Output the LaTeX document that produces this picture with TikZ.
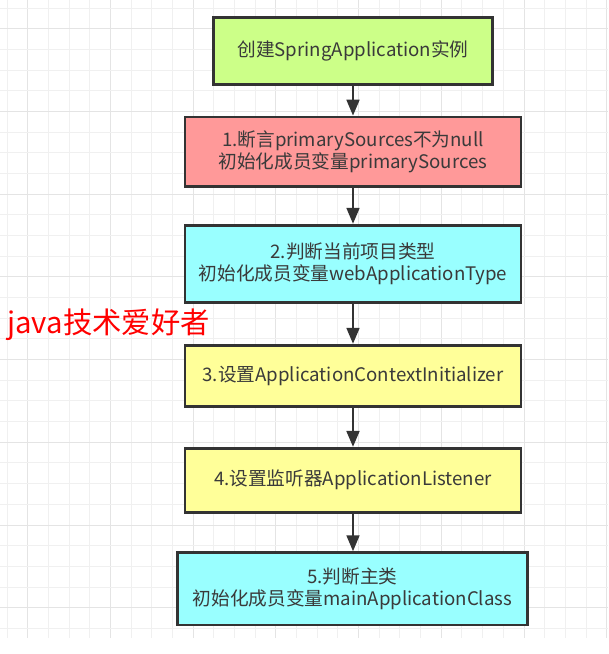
\documentclass[tikz,border=0pt]{standalone}
\usepackage{fontspec}
\setmainfont{Noto Sans CJK SC}
\usetikzlibrary{arrows.meta}
\definecolor{gridminor}{HTML}{F0F0F0}
\definecolor{gridmajor}{HTML}{E4E4E4}
\definecolor{boxline}{HTML}{333333}
\definecolor{textgray}{HTML}{3A3A3A}
\definecolor{fgreen}{HTML}{CCFF88}
\definecolor{fred}{HTML}{FF9999}
\definecolor{fcyan}{HTML}{99FFFF}
\definecolor{fyellow}{HTML}{FFFF99}
\begin{document}
\begin{tikzpicture}[x=0.75pt,y=-0.75pt,
  box/.style={draw=boxline, line width=2pt, text=textgray,
    font=\fontsize{14}{16.5}\selectfont, align=center, inner sep=0pt},
  arr/.style={draw=boxline, line width=2pt, -{Triangle[length=12pt,width=9.5pt]}},
  minorline/.style={draw=gridminor, line width=0.75pt},
  majorline/.style={draw=gridmajor, line width=0.75pt}]
\useasboundingbox (0,0) rectangle (608,654);
\fill[white] (0,0) rectangle (608,654);
\foreach \k in {0,...,29} {
  \pgfmathtruncatemacro{\m}{mod(\k,4)}
  \ifnum\m=1 \draw[majorline] ({7+20.68*\k},0) -- ({7+20.68*\k},638);
  \else \draw[minorline] ({7+20.68*\k},0) -- ({7+20.68*\k},638); \fi
}
\foreach \k in {0,...,30} {
  \pgfmathtruncatemacro{\m}{mod(\k,4)}
  \ifnum\m=1 \draw[majorline] (0,{8+20.68*\k}) -- (608,{8+20.68*\k});
  \else \draw[minorline] (0,{8+20.68*\k}) -- (608,{8+20.68*\k}); \fi
}
\node[box, fill=fgreen, minimum width=209.25pt, minimum height=50.25pt] (b0) at (353,51.3) {创建SpringApplication实例};
\node[box, fill=fred, minimum width=252pt, minimum height=52pt] (b1) at (353,151.7) {1.断言primarySources不为null\\初始化成员变量primarySources};
\node[box, fill=fcyan, minimum width=252pt, minimum height=57.75pt] (b2) at (353,263.7) {2.判断当前项目类型\\初始化成员变量webApplicationType};
\node[box, fill=fyellow, minimum width=252pt, minimum height=45.75pt] (b3) at (353,375.7) {3.设置ApplicationContextInitializer};
\node[box, fill=fyellow, minimum width=252pt, minimum height=48pt] (b4) at (353,480.3) {4.设置监听器ApplicationListener};
\node[box, fill=fcyan, minimum width=262.2pt, minimum height=54.2pt] (b5) at (352.5,588.8) {5.判断主类\\初始化成员变量mainApplicationClass};
\draw[arr] (b0) -- (b1);
\draw[arr] (b1) -- (b2);
\draw[arr] (b2) -- (b3);
\draw[arr] (b3) -- (b4);
\draw[arr] (b4) -- (b5.north -| b4.south);
\node[anchor=west, text=red, font=\fontsize{22}{25}\selectfont, inner sep=0pt] (wm) at (7,325) {java技术爱好者};
\end{tikzpicture}
\end{document}
